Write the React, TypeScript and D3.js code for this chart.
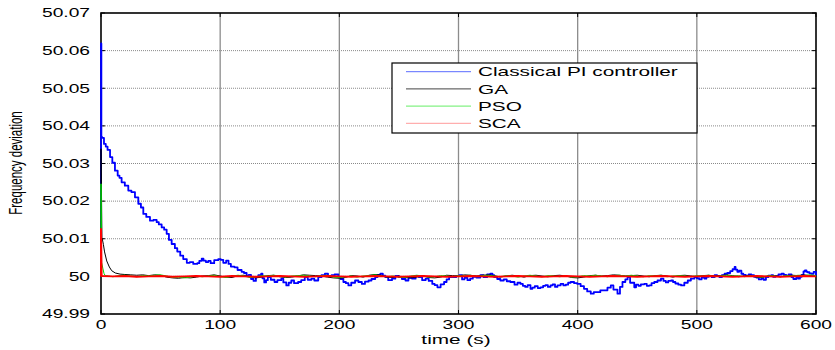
import React from 'react';
import * as d3 from 'd3';

// chart frame
const W = 835;
const H = 350;
const margin = { top: 13, right: 19, bottom: 36, left: 101 };
const innerW = W - margin.left - margin.right;
const innerH = H - margin.top - margin.bottom;

// text in the source image is stretched sideways
const SX = 1.6;

const xTicks = [0, 100, 200, 300, 400, 500, 600];
const xTickLabels = ['0', '100', '200', '300', '400', '500', '600'];
const yTicks = [49.99, 50, 50.01, 50.02, 50.03, 50.04, 50.05, 50.06, 50.07];
const yTickLabels = ['49.99', '50', '50.01', '50.02', '50.03', '50.04', '50.05', '50.06', '50.07'];

const seriesNames = ['Classical PI controller', 'GA', 'PSO', 'SCA'];
const seriesColors = ['#0000ff', '#000000', '#00dd00', '#ff0000'];
const legendColors = ['#5a6cff', '#444444', '#66ee66', '#ff9a9a'];
const seriesWidths = [1.8, 1, 1, 2];

// [time (s), frequency]
const piSeries: [number, number][] = [
  [0, 50], [0, 50.0619], [0.3, 50.037], [1.1, 50.0368], [2.5, 50.0352], [4, 50.0345], [5.5, 50.0336],
  [7.6, 50.0317], [9.5, 50.0302], [11.7, 50.0281], [14, 50.0268], [15.5, 50.0262], [17.3, 50.025],
  [20, 50.0241], [22.9, 50.0228], [25.5, 50.0224], [28.5, 50.021], [31.3, 50.0193], [33.5, 50.0183],
  [35.5, 50.0166], [38, 50.0158], [41.1, 50.0148], [44, 50.015], [46.7, 50.0144], [48.5, 50.0138],
  [50.9, 50.013], [53, 50.0124], [55.1, 50.0113], [57, 50.0097], [59.3, 50.0086], [62, 50.0075],
  [64, 50.0066], [66.5, 50.0055], [69, 50.0046], [72, 50.0036], [74.5, 50.0038], [77.4, 50.0033],
  [80.8, 50.0035], [82.5, 50.0041], [84.5, 50.0047], [86, 50.0042], [88, 50.0038], [90, 50.0041],
  [92, 50.0035], [95, 50.0043], [98.4, 50.0046], [100.5, 50.0044], [102.6, 50.0036], [105, 50.0042],
  [107, 50.0033], [109, 50.0026], [112, 50.0024], [114.6, 50.0017], [118, 50.0012], [120, 50.0009],
  [122.2, 50.0002], [124, 50.0004], [125.9, 49.9993], [128, 49.9988], [130, 49.9998], [132, 50.0003],
  [134.4, 50.0007], [135.5, 49.9995], [137, 49.9984], [138.5, 49.999], [140, 49.9998], [142.5, 49.9991],
  [145.6, 49.9985], [148, 49.999], [151.3, 49.9994], [153, 49.9984], [155.5, 49.9976], [157.5, 49.9983],
  [159.7, 49.9989], [162, 49.9982], [165.4, 49.9985], [168, 49.999], [171, 49.9998], [173.5, 49.9991],
  [176.6, 49.9994], [179, 49.9989], [182.3, 49.9998], [185, 50.0003], [187.9, 50.0007], [190.5, 50.0001],
  [193.5, 50.0003], [196, 50.0005], [199.2, 49.9998], [201, 49.9993], [203.4, 49.9985], [205.5, 49.9982],
  [207.6, 49.9976], [210, 49.9983], [213.2, 49.9989], [216, 49.9985], [218.9, 49.998], [221.5, 49.9986],
  [224.5, 49.9989], [227, 49.9993], [230.1, 49.9998], [232, 50.0004], [234.4, 50.0007], [236.5, 50.0002],
  [238.6, 49.9998], [241, 49.999], [244.2, 49.9994], [247, 50.0001], [249.9, 49.9998], [252.5, 49.9993],
  [255.5, 49.9989], [258, 49.9996], [261.1, 49.9994], [264, 50.0001], [266.8, 49.9998], [269.5, 49.999],
  [272.4, 49.9994], [275, 49.9988], [278, 49.998], [280, 49.9977], [282.3, 49.9971], [285, 49.9979],
  [287.9, 49.9985], [290, 49.9992], [292.1, 49.9998], [295.8, 49.9998], [298, 50.0001], [300.6, 50.0003],
  [303, 49.9992], [305, 49.9996], [307.5, 49.999], [309.8, 49.9994], [312, 49.9999], [315, 49.9997],
  [318.3, 50.0003], [321, 49.9998], [324, 50.0005], [326.7, 50.0007], [328.5, 50.0003], [330, 49.9998],
  [332.5, 49.9993], [335.1, 49.9989], [338, 49.9992], [340.5, 49.9987], [343.5, 49.9985], [347, 49.9978],
  [349.5, 49.9983], [352, 49.998], [354, 49.9975], [356, 49.9972], [358, 49.9977], [360.4, 49.9967],
  [362, 49.997], [364, 49.9974], [366.5, 49.9969], [368.8, 49.9971], [371, 49.9975], [373, 49.9977],
  [375, 49.9972], [377.2, 49.9976], [379, 49.9979], [381, 49.9972], [383, 49.9976], [385.7, 49.998],
  [388, 49.9976], [390, 49.9978], [392, 49.9983], [394.1, 49.9985], [397, 49.9982], [399.7, 49.998],
  [402.5, 49.9974], [405.3, 49.9967], [408, 49.996], [411, 49.9954], [413.5, 49.9958], [416.6, 49.9958],
  [419, 49.9963], [422.2, 49.9963], [425, 49.997], [427.8, 49.9976], [430, 49.9965], [433.4, 49.9954],
  [435.5, 49.9972], [437.6, 49.9985], [440, 49.9992], [441.9, 49.9998], [444, 49.9983], [447.5, 49.9971],
  [449, 49.9978], [451, 49.9975], [453, 49.9979], [455.9, 49.998], [458, 49.9975], [460, 49.9976],
  [462, 49.9982], [464.3, 49.9985], [467, 49.9989], [469.9, 49.9994], [472, 49.9988], [474, 49.9984],
  [476, 49.9988], [478.4, 49.9989], [480, 49.9985], [482, 49.9981], [484.5, 49.9978], [486.8, 49.9976],
  [489.5, 49.9983], [492.4, 49.9989], [495, 49.9994], [498, 49.9998], [500, 49.9995], [502, 49.9992],
  [504, 49.9997], [506.5, 49.9994], [508, 49.9999], [510, 50.0001], [512.5, 49.9998], [514.9, 50.0003],
  [517, 50.0001], [519, 49.9998], [521, 50.0003], [523.3, 50.0007], [525.5, 50.0009], [528, 50.0014],
  [530, 50.0019], [531.7, 50.0025], [532.5, 50.0018], [534, 50.0012], [535.5, 50.0015], [537.4, 50.0007],
  [539, 50.0004], [541, 50.0002], [543.5, 50.0005], [545.8, 50.0003], [548, 49.9999], [550, 49.9997],
  [552, 49.9992], [554.2, 49.9994], [556, 49.9991], [558, 49.9998], [560, 50.0002], [562.6, 50.0003],
  [564, 49.9999], [566, 50.0001], [568.5, 50.0005], [571.1, 50.0007], [573, 50.0004], [575, 50.0002],
  [577, 50.0005], [579.5, 49.9998], [581, 49.9993], [582, 49.9993], [583.5, 49.9997], [585.1, 49.9994],
  [586.5, 49.9999], [588, 50.0004], [589.5, 50.0013], [590.7, 50.0016], [592, 50.0012], [593, 50.0011],
  [594.5, 50.0008], [596.3, 50.0007], [598, 50.0012], [600, 50.0003],
];

const gaSeries: [number, number][] = [
  [0, 50], [0, 50.0339], [0.8, 50.0104], [2, 50.0085], [3, 50.0065], [4.8, 50.0041], [7, 50.0025],
  [9, 50.0015], [12, 50.0009], [16, 50.0006],
  [20, 50.0005], [25, 50.0004], [30, 50.0003], [35, 50.0004], [40, 50.0002], [45, 50.0004], [50, 50.0003],
  [55, 49.9998], [60, 49.9996], [65, 49.9995], [70, 49.9997], [75, 49.9996], [80, 49.9998], [85, 50.0001],
  [90, 50.0002], [95, 50.0004], [100, 50.0001], [105, 49.9998], [110, 49.9997], [115, 50.0002], [120, 50.0003],
  [125, 49.9998], [130, 49.9996], [135, 49.9998], [140, 50.0002], [145, 50.0003], [150, 49.9999], [155, 49.9997],
  [160, 49.9998], [165, 50.0001], [170, 50.0004], [175, 50.0003], [180, 50.0002], [185, 50.0001], [190, 49.9998],
  [195, 49.9996], [200, 49.9995], [205, 49.9997], [210, 50.0002], [215, 50.0001], [220, 49.9998], [225, 50.0003],
  [230, 50.0005], [235, 50.0003], [240, 49.9998], [245, 49.9997], [250, 50.0001], [255, 49.9997], [260, 49.9996],
  [265, 49.9998], [270, 50.0002], [275, 49.9997], [280, 49.9996], [285, 49.9998], [290, 50.0003], [295, 50.0002],
  [300, 50.0001], [305, 50.0004], [310, 50.0003], [315, 50.0001], [320, 50.0003], [325, 50.0004], [330, 50.0002],
  [335, 49.9998], [340, 50.0001], [345, 50.0003], [350, 50.0001], [355, 49.9998], [360, 50.0002], [365, 50.0003],
  [370, 50.0001], [375, 49.9999], [380, 50.0002], [385, 50.0003], [390, 50.0001], [395, 49.9997], [400, 49.9996],
  [405, 49.9998], [410, 50.0002], [415, 50.0003], [420, 50.0001], [425, 50.0002], [430, 50.0004], [435, 50.0003],
  [440, 50.0001], [445, 50.0002], [450, 50.0003], [455, 50.0001], [460, 49.9999], [465, 50.0002], [470, 50.0003],
  [475, 50.0001], [480, 49.9998], [485, 50.0002], [490, 50.0003], [495, 50.0001], [500, 49.9999], [505, 50.0002],
  [510, 50.0003], [515, 50.0001], [520, 50.0002], [525, 50.0004], [530, 50.0002], [535, 49.9999], [540, 50.0001],
  [545, 50.0003], [550, 49.9998], [555, 49.9997], [560, 50.0001], [565, 50.0002], [570, 49.9999], [575, 50.0001],
  [580, 50.0003], [585, 50.0002], [590, 50.0004], [595, 50.0002], [600, 50.0001],
];

const psoSeries: [number, number][] = [
  [0, 50], [0, 50.0246], [0.5, 50.0037], [1.5, 50.0022], [2.5, 50.0008], [3.5, 50.0002], [6, 50.0001],
  [10, 49.9999], [15, 50.0002],
  [20, 50.0003], [25, 50.0001], [30, 49.9999], [35, 50.0002], [40, 50.0001], [45, 50.0003], [50, 50.0004],
  [55, 50.0001], [60, 49.9997], [65, 49.9998], [70, 49.9996], [75, 49.9998], [80, 50.0001], [85, 49.9999],
  [90, 50.0001], [95, 50.0003], [100, 49.9999], [105, 49.9997], [110, 50.0001], [115, 50.0003], [120, 50.0001],
  [125, 49.9997], [130, 49.9999], [135, 50.0002], [140, 50.0001], [145, 50.0003], [150, 50.0001], [155, 49.9998],
  [160, 50.0001], [165, 50.0002], [170, 50.0003], [175, 50.0001], [180, 49.9999], [185, 50.0002], [190, 50.0003],
  [195, 49.9998], [200, 49.9997], [205, 49.9999], [210, 50.0001], [215, 49.9998], [220, 50.0001], [225, 50.0002],
  [230, 50.0004], [235, 50.0001], [240, 49.9999], [245, 50.0001], [250, 49.9998], [255, 49.9997], [260, 50.0001],
  [265, 50.0003], [270, 50.0001], [275, 49.9998], [280, 49.9999], [285, 50.0002], [290, 50.0001], [295, 49.9999],
  [300, 50.0002], [305, 50.0001], [310, 50.0003], [315, 49.9999], [320, 50.0002], [325, 50.0003], [330, 50.0001],
  [335, 49.9999], [340, 50.0002], [345, 50.0001], [350, 49.9998], [355, 50.0001], [360, 50.0003], [365, 50.0001],
  [370, 49.9999], [375, 50.0002], [380, 50.0001], [385, 49.9999], [390, 50.0002], [395, 49.9998], [400, 49.9999],
  [405, 50.0002], [410, 50.0001], [415, 50.0003], [420, 50.0001], [425, 49.9999], [430, 50.0002], [435, 50.0003],
  [440, 50.0001], [445, 50.0003], [450, 50.0001], [455, 49.9999], [460, 50.0002], [465, 50.0001], [470, 50.0003],
  [475, 49.9999], [480, 50.0001], [485, 50.0002], [490, 50.0001], [495, 49.9999], [500, 50.0002], [505, 50.0001],
  [510, 50.0003], [515, 49.9999], [520, 50.0001], [525, 50.0003], [530, 50.0001], [535, 50.0002], [540, 49.9999],
  [545, 50.0002], [550, 49.9999], [555, 49.9998], [560, 50.0002], [565, 50.0001], [570, 49.9999], [575, 50.0002],
  [580, 50.0001], [585, 50.0003], [590, 50.0002], [595, 50.0004], [600, 50.0002],
];

const scaSeries: [number, number][] = [
  [0, 50], [0, 50.0126], [0.5, 50.0001], [10, 50], [20, 50.0001], [30, 49.9999], [40, 50], [50, 50.0001],
  [60, 49.9999], [70, 50], [80, 50.0001], [90, 50], [100, 49.9999], [110, 50.0001], [120, 50], [130, 49.9999],
  [140, 50], [150, 50.0001], [160, 50], [170, 49.9999], [180, 50], [190, 50.0001], [200, 50], [210, 49.9999],
  [220, 50], [230, 50.0001], [240, 50], [250, 49.9999], [260, 50], [270, 50.0001], [280, 50], [290, 49.9999],
  [300, 50], [310, 50.0001], [320, 50], [330, 49.9999], [340, 50], [350, 50.0001], [360, 50], [370, 49.9999],
  [380, 50], [390, 50.0001], [400, 50], [410, 49.9999], [420, 50], [430, 50.0001], [440, 50], [450, 49.9999],
  [460, 50], [470, 50.0001], [480, 50], [490, 49.9999], [500, 50], [510, 50.0001], [520, 50], [530, 49.9999],
  [540, 50], [550, 50.0001], [560, 50], [570, 49.9999], [580, 50], [590, 50.0001], [600, 50],
];

const allSeries = [piSeries, gaSeries, psoSeries, scaSeries];

const FONT = 'Arial, "Liberation Sans", sans-serif';

export default function App() {
  const x = d3.scaleLinear().domain([0, 600]).range([0, innerW]);
  const y = d3.scaleLinear().domain([49.99, 50.07]).range([innerH, 0]);

  const stepLine = d3
    .line<[number, number]>()
    .x(d => x(d[0]))
    .y(d => y(d[1]))
    .curve(d3.curveStepAfter);
  const line = d3
    .line<[number, number]>()
    .x(d => x(d[0]))
    .y(d => y(d[1]));

  const legendX = 392 - margin.left;
  const legendY = 63 - margin.top;
  const rowH = 17.2;

  return (
    <svg
      width={W}
      height={H}
      style={{ position: 'absolute', left: 0, top: 0, background: '#fff' }}
      fontFamily={FONT}
    >
      <rect width={W} height={H} fill="#fff" />
      <g transform={`translate(${margin.left},${margin.top})`}>
        {/* horizontal grid, dotted */}
        {yTicks.slice(1, -1).map(t => (
          <line key={'gy' + t} x1={0} x2={innerW} y1={y(t)} y2={y(t)} stroke="#8a8a8a" strokeWidth={1} strokeDasharray="1,1" />
        ))}
        {/* vertical grid */}
        {xTicks.slice(1, -1).map(t => (
          <line key={'gx' + t} x1={x(t)} x2={x(t)} y1={0} y2={innerH} stroke="#8c8c8c" strokeWidth={1.3} />
        ))}

        {/* frame */}
        <rect x={0} y={0} width={innerW} height={innerH} fill="none" stroke="#000" strokeWidth={1.6} />

        {/* ticks */}
        {yTicks.map(t => (
          <g key={'ty' + t}>
            <line x1={0} x2={4} y1={y(t)} y2={y(t)} stroke="#000" />
            <line x1={innerW - 4} x2={innerW} y1={y(t)} y2={y(t)} stroke="#000" />
          </g>
        ))}
        {xTicks.map(t => (
          <g key={'tx' + t}>
            <line x1={x(t)} x2={x(t)} y1={innerH} y2={innerH - 4} stroke="#000" />
            <line x1={x(t)} x2={x(t)} y1={0} y2={4} stroke="#000" />
          </g>
        ))}

        {/* data lines, on top of the frame as in the source */}
        {allSeries.map((s, i) => (
          <path
            key={i}
            d={(i === 0 ? stepLine(s) : line(s)) || ''}
            fill="none"
            stroke={seriesColors[i]}
            strokeWidth={seriesWidths[i]}
            strokeLinejoin="round"
          />
        ))}

        {/* tick labels */}
        {yTicks.map((t, i) => (
          <text
            key={'ly' + t}
            transform={`translate(-11,${y(t) + 4.3}) scale(${SX},1)`}
            textAnchor="end"
            fontSize={12}
            fill="#000"
          >
            {yTickLabels[i]}
          </text>
        ))}
        {xTicks.map((t, i) => (
          <text
            key={'lx' + t}
            transform={`translate(${x(t)},${innerH + 15}) scale(${SX},1)`}
            textAnchor="middle"
            fontSize={12}
            fill="#000"
          >
            {xTickLabels[i]}
          </text>
        ))}

        {/* legend */}
        <rect x={legendX} y={legendY} width={305} height={70} fill="#fff" stroke="#000" strokeWidth={1.2} />
        {seriesNames.map((name, i) => {
          const ry = legendY + 8.7 + i * rowH;
          return (
            <g key={name}>
              <line x1={legendX + 14} x2={legendX + 79} y1={ry} y2={ry} stroke={legendColors[i]} strokeWidth={1} />
              <text
                transform={`translate(${legendX + 86},${ry + 4.6}) scale(${SX},1)`}
                fontSize={13}
                fill="#000"
              >
                {name}
              </text>
            </g>
          );
        })}
      </g>

      {/* axis titles */}
      <text transform={`translate(456,344) scale(${SX},1)`} textAnchor="middle" fontSize={13} fill="#000">
        time (s)
      </text>
      <text
        transform={`translate(22,163) scale(${SX},1) rotate(-90)`}
        textAnchor="middle"
        fontSize={11.5}
        fill="#000"
      >
        Frequency deviation
      </text>
    </svg>
  );
}
